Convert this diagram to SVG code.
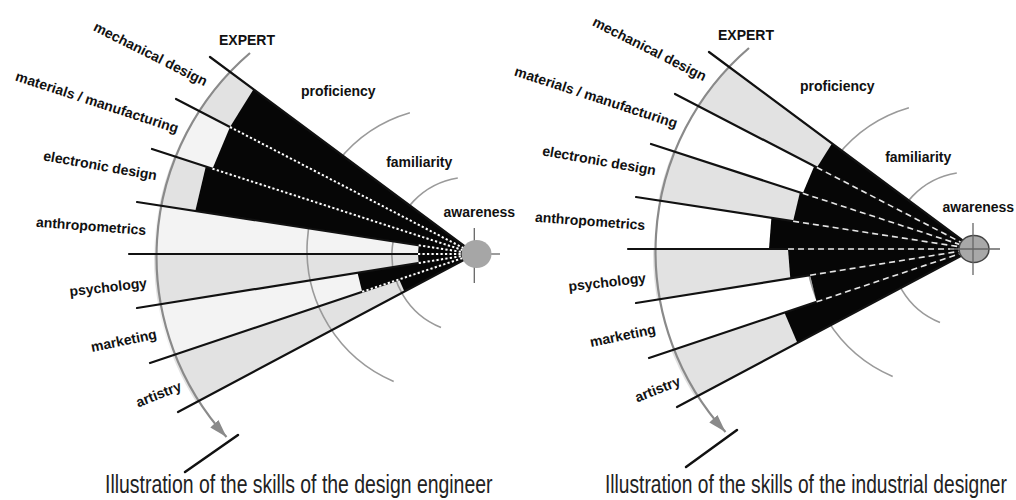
<svg xmlns="http://www.w3.org/2000/svg" width="1016" height="500" viewBox="0 0 1016 500">
<style>
 .lbl{font-family:"Liberation Sans",Arial,sans-serif;font-weight:bold;font-size:14px;fill:#111}
 .title{font-family:"Liberation Sans",Arial,sans-serif;font-size:25px;fill:#222}
 .ray{stroke:#111;stroke-width:2.2;stroke-linecap:round;fill:none}
 .dotl{stroke:#fff;stroke-width:2;stroke-dasharray:2.2 2.3;fill:none}
 .dashr{stroke:#e6e6e6;stroke-width:1.6;stroke-dasharray:6 4;fill:none}
 .gray{fill:#e2e2e2}
 .light{fill:#f3f3f3}
 .blk{fill:#060606}
 .arc{stroke:#9a9a9a;stroke-width:1.6;fill:none}
 .expert{stroke:#8a8a8a;stroke-width:2.2;fill:none}
 .tick{stroke:#111;stroke-width:2.5;stroke-linecap:round}
 .hair{stroke:#666;stroke-width:1.3}
</style>
<defs>
 <clipPath id="disk"><circle cx="422" cy="258" r="268"/></clipPath>
 <marker id="ah" markerUnits="userSpaceOnUse" markerWidth="20" markerHeight="12" refX="18" refY="6" orient="auto"><path d="M0,0.5 L18,6 L0,11.5 z" fill="#8a8a8a"/></marker>
</defs>

<!-- ===== Left panel: design engineer ===== -->
<g id="panel-engineer">
 <g id="bands-engineer" clip-path="url(#disk)">
  <polygon class="gray" points="475,254 210,57 176,99"/>
  <polygon class="light" points="475,254 176,99 152,149"/>
  <polygon class="gray" points="475,254 152,149 137,202"/>
  <polygon class="light" points="475,254 137,202 129,254"/>
  <polygon class="gray" points="475,254 129,254 137,308"/>
  <polygon class="light" points="475,254 137,308 150,363"/>
  <polygon class="gray" points="475,254 150,363 178,412"/>
 </g>
 <g id="levels-engineer">
  <path class="arc" d="M409.9,112.7 A143,143 0 0 0 393.7,381.4"/>
  <path class="arc" d="M457.8,178 A78,78 0 0 0 441,327.5"/>
 </g>
 <g id="skill-engineer">
  <polygon class="blk" points="475,254 253.5,89.3 230,127"/>
  <polygon class="blk" points="475,254 230,127 212.5,168.7"/>
  <polygon class="blk" points="475,254 205.8,166.5 195.3,211"/>
  <polygon class="blk" points="475,254 418.7,245.3 418,254"/>
  <polygon class="blk" points="475,254 418,254 418.7,263"/>
  <polygon class="blk" points="475,254 357.5,272.8 362.2,291.8"/>
  <polygon class="blk" points="475,254 399.2,279.4 404.4,291.6"/>
 </g>
 <g id="expert-axis-engineer">
  <path class="expert" d="M250,53 A268,268 0 0 0 226.5,437" marker-end="url(#ah)"/>
  <line class="tick" x1="185" y1="472" x2="238" y2="435"/>
 </g>
 <g id="connectors-engineer">
  <line class="ray" x1="210" y1="57" x2="475" y2="254"/>
  <line class="ray" x1="176" y1="99" x2="475" y2="254"/>
  <line class="ray" x1="152" y1="149" x2="475" y2="254"/>
  <line class="ray" x1="137" y1="202" x2="475" y2="254"/>
  <line class="ray" x1="129" y1="254" x2="475" y2="254"/>
  <line class="ray" x1="137" y1="308" x2="475" y2="254"/>
  <line class="ray" x1="150" y1="363" x2="475" y2="254"/>
  <line class="ray" x1="178" y1="412" x2="475" y2="254"/>
  <line class="dotl" x1="230" y1="127" x2="468" y2="250.4"/>
  <line class="dotl" x1="212.5" y1="168.7" x2="468" y2="251.8"/>
  <line class="dotl" x1="418.7" y1="245.3" x2="468" y2="252.9"/>
  <line class="dotl" x1="418" y1="254" x2="468" y2="254"/>
  <line class="dotl" x1="418.7" y1="263" x2="468" y2="255.1"/>
  <line class="dotl" x1="362.2" y1="291.8" x2="468" y2="256.3"/>
 </g>
 <g id="node-awareness-engineer">
  <line class="hair" x1="474.3" y1="228" x2="474.3" y2="283"/>
  <line class="hair" x1="488" y1="254" x2="500" y2="254"/>
  <ellipse cx="476.5" cy="254" rx="15" ry="14" fill="#a6a6a6"/>
 </g>
 <g id="labels-engineer">
  <text class="lbl" text-anchor="middle" transform="translate(150,55) rotate(26.7)" y="3.6">mechanical design</text>
  <text class="lbl" text-anchor="middle" transform="translate(96.7,103.3) rotate(18.1)" y="3.6">materials / manufacturing</text>
  <text class="lbl" text-anchor="middle" transform="translate(100,166.7) rotate(10.1)" y="3.6">electronic design</text>
  <text class="lbl" text-anchor="middle" transform="translate(91,227.3) rotate(4.3)" y="3.6">anthropometrics</text>
  <text class="lbl" text-anchor="middle" transform="translate(108.3,288.3) rotate(-6.4)" y="3.6">psychology</text>
  <text class="lbl" text-anchor="middle" transform="translate(124,341.7) rotate(-11.6)" y="3.6">marketing</text>
  <text class="lbl" text-anchor="middle" transform="translate(159,395.3) rotate(-21.6)" y="3.6">artistry</text>
  <text class="lbl" text-anchor="middle" x="247" y="45">EXPERT</text>
  <text class="lbl" text-anchor="middle" x="338.3" y="95.5">proficiency</text>
  <text class="lbl" text-anchor="middle" x="419.2" y="167">familiarity</text>
  <text class="lbl" text-anchor="middle" x="479.3" y="217">awareness</text>
 </g>
</g>

<!-- ===== Right panel: industrial designer ===== -->
<g id="panel-designer" transform="translate(499,-5)">
 <g id="bands-designer" clip-path="url(#disk)">
  <polygon class="gray" points="475,254 210,57 176,99"/>
  <polygon class="gray" points="475,254 152,149 137,202"/>
  <polygon class="gray" points="475,254 129,254 137,308"/>
  <polygon class="gray" points="475,254 150,363 178,412"/>
 </g>
 <g id="levels-designer">
  <path class="arc" d="M409.9,112.7 A143,143 0 0 0 393.7,381.4"/>
  <path class="arc" d="M457.8,178 A78,78 0 0 0 441,327.5"/>
 </g>
 <g id="skill-designer">
  <polygon class="blk" points="475,254 333,148.4 317.9,172.5"/>
  <polygon class="blk" points="475,254 315.2,171.2 303.8,198.3"/>
  <polygon class="blk" points="475,254 300.9,197.4 294.1,226.2"/>
  <polygon class="blk" points="475,254 272.4,222.8 270,254"/>
  <polygon class="blk" points="475,254 289,254 291.3,283.4"/>
  <polygon class="blk" points="475,254 311.1,280.2 317.6,306.8"/>
  <polygon class="blk" points="475,254 285.4,317.6 298.4,347.9"/>
 </g>
 <g id="expert-axis-designer">
  <path class="expert" d="M250,53 A268,268 0 0 0 226.5,437" marker-end="url(#ah)"/>
  <line class="tick" x1="187" y1="472" x2="238" y2="435"/>
 </g>
 <g id="connectors-designer">
  <line class="ray" x1="210" y1="57" x2="475" y2="254"/>
  <line class="ray" x1="176" y1="99" x2="475" y2="254"/>
  <line class="ray" x1="152" y1="149" x2="475" y2="254"/>
  <line class="ray" x1="137" y1="202" x2="475" y2="254"/>
  <line class="ray" x1="129" y1="254" x2="475" y2="254"/>
  <line class="ray" x1="137" y1="308" x2="475" y2="254"/>
  <line class="ray" x1="150" y1="363" x2="475" y2="254"/>
  <line class="ray" x1="178" y1="412" x2="475" y2="254"/>
  <line class="dashr" x1="317.9" y1="172.5" x2="468" y2="250.4"/>
  <line class="dashr" x1="303.8" y1="198.3" x2="468" y2="251.8"/>
  <line class="dashr" x1="294.1" y1="226.2" x2="468" y2="252.9"/>
  <line class="dashr" x1="289" y1="254" x2="468" y2="254"/>
  <line class="dashr" x1="311.1" y1="280.2" x2="468" y2="255.1"/>
  <line class="dashr" x1="317.6" y1="306.8" x2="468" y2="256.3"/>
 </g>
 <g id="node-awareness-designer">
  <ellipse cx="475" cy="254" rx="15" ry="13.5" fill="#a8a8a8" stroke="#444" stroke-width="1.5"/>
  <line class="hair" x1="474" y1="228" x2="474" y2="280"/>
  <line class="hair" x1="451" y1="254" x2="501" y2="254"/>
 </g>
 <g id="labels-designer">
  <text class="lbl" text-anchor="middle" transform="translate(150,55) rotate(26.7)" y="3.6">mechanical design</text>
  <text class="lbl" text-anchor="middle" transform="translate(96.7,103.3) rotate(18.1)" y="3.6">materials / manufacturing</text>
  <text class="lbl" text-anchor="middle" transform="translate(100,166.7) rotate(10.1)" y="3.6">electronic design</text>
  <text class="lbl" text-anchor="middle" transform="translate(91,227.3) rotate(4.3)" y="3.6">anthropometrics</text>
  <text class="lbl" text-anchor="middle" transform="translate(108.3,288.3) rotate(-6.4)" y="3.6">psychology</text>
  <text class="lbl" text-anchor="middle" transform="translate(124,341.7) rotate(-11.6)" y="3.6">marketing</text>
  <text class="lbl" text-anchor="middle" transform="translate(159,395.3) rotate(-21.6)" y="3.6">artistry</text>
  <text class="lbl" text-anchor="middle" x="247" y="45">EXPERT</text>
  <text class="lbl" text-anchor="middle" x="338.3" y="95.5">proficiency</text>
  <text class="lbl" text-anchor="middle" x="419.2" y="167">familiarity</text>
  <text class="lbl" text-anchor="middle" x="479.3" y="217">awareness</text>
 </g>
</g>

<g id="captions">
 <text class="title" transform="translate(105,493) scale(0.777,1)">Illustration of the skills of the design engineer</text>
 <text class="title" transform="translate(605,493) scale(0.768,1)">Illustration of the skills of the industrial designer</text>
</g>
</svg>
